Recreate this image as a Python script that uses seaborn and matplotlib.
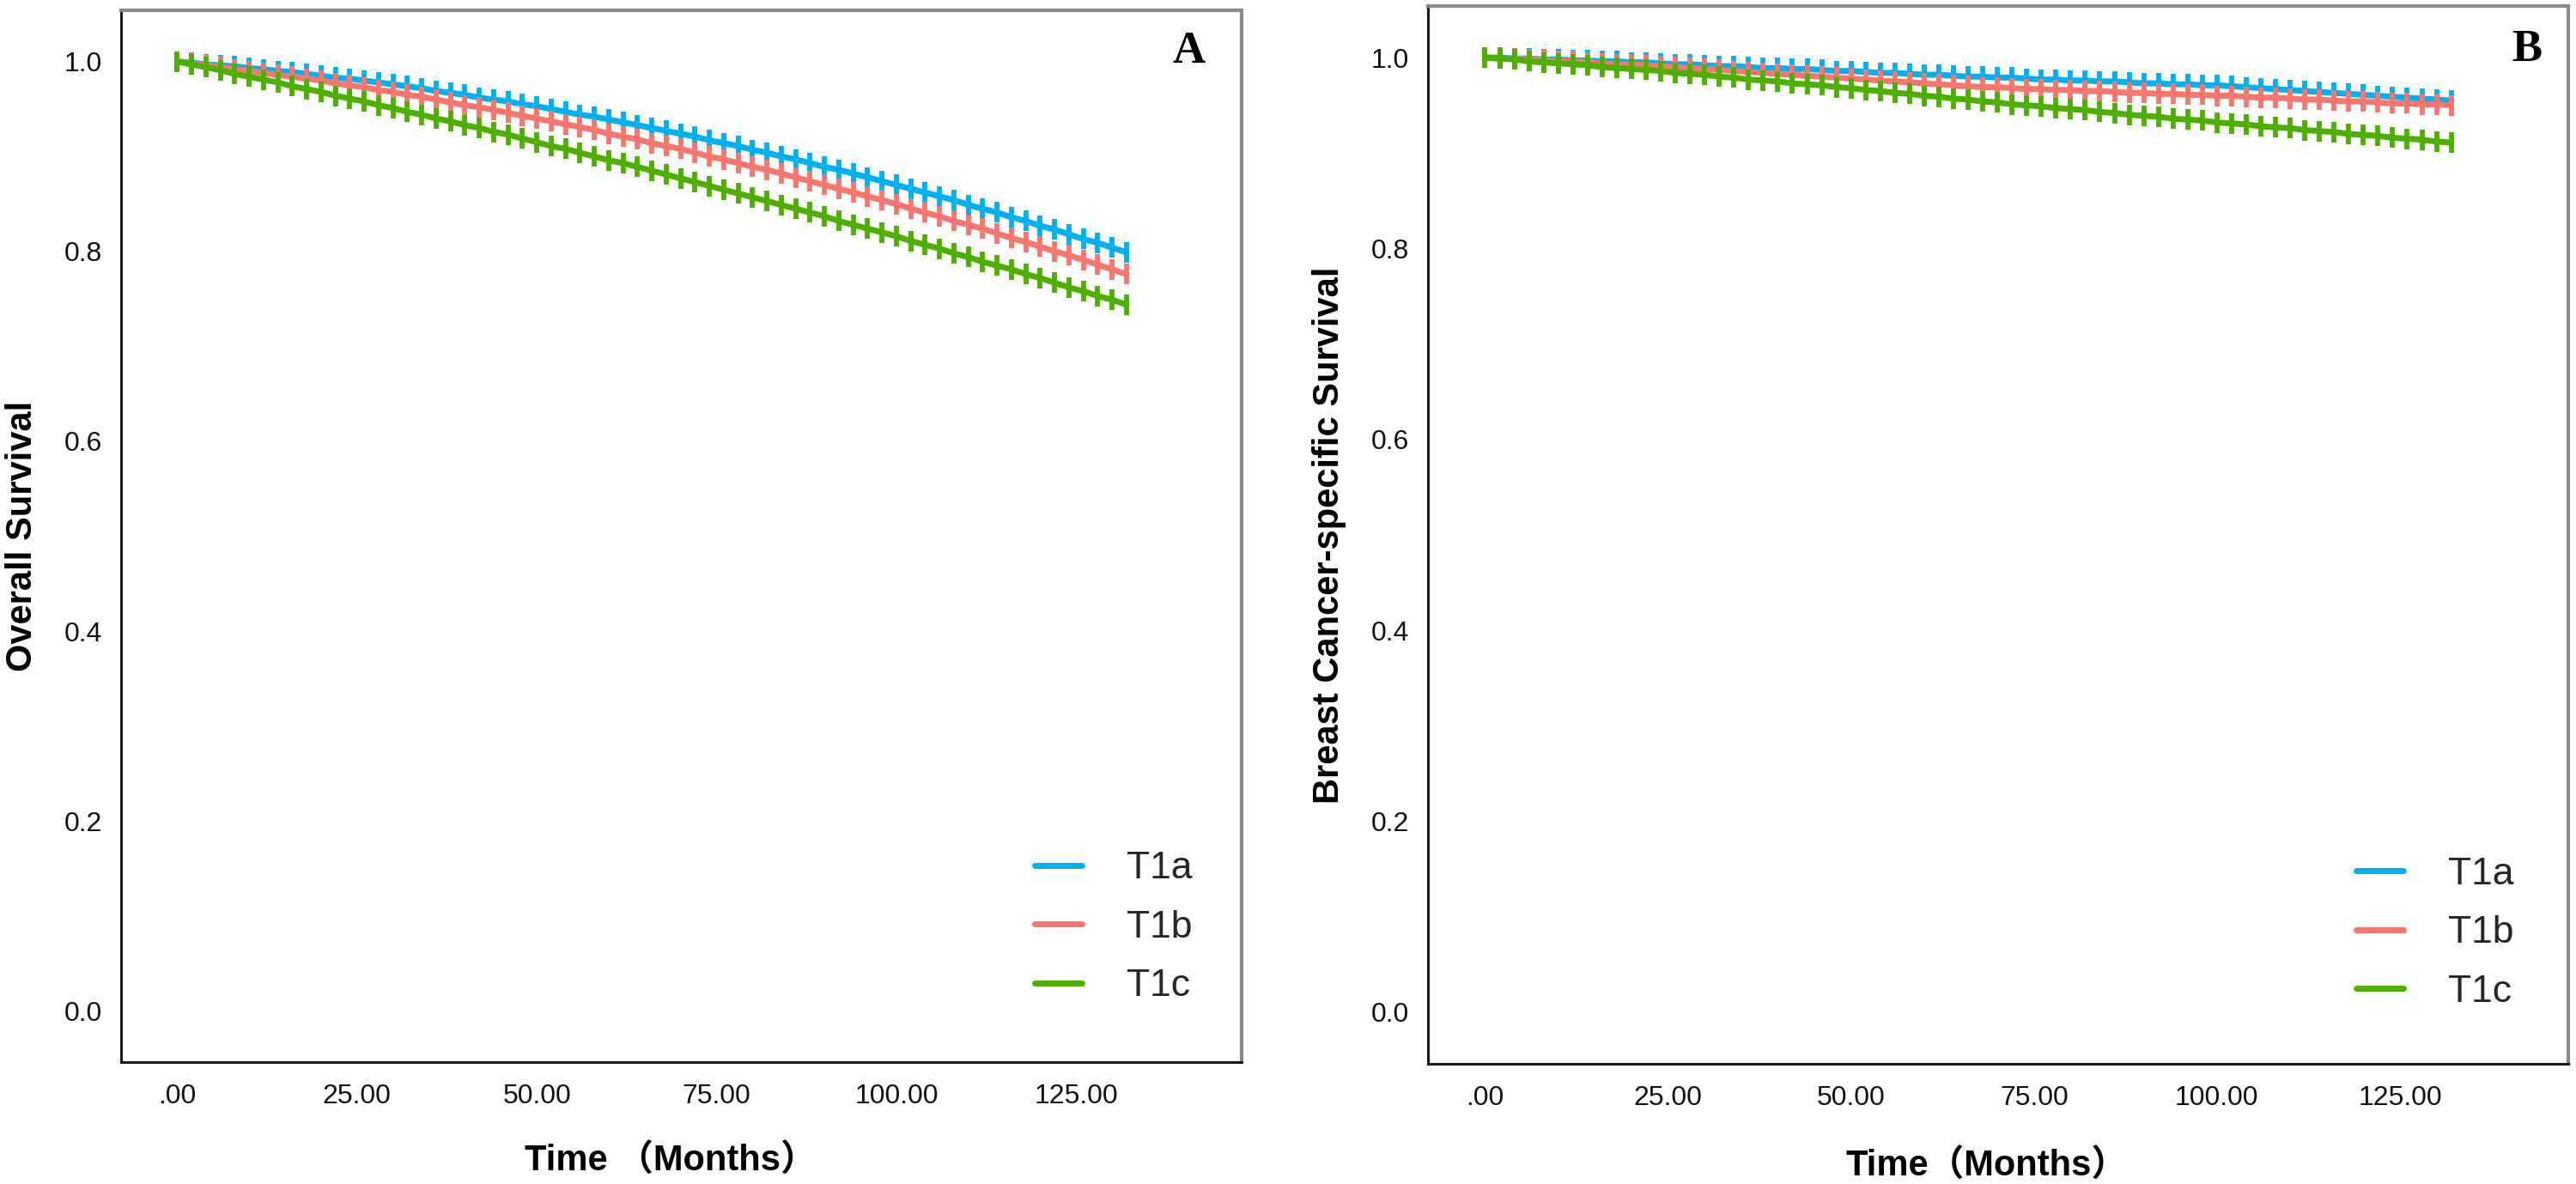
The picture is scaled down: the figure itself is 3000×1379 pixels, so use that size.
import matplotlib
matplotlib.use("Agg")
import matplotlib.pyplot as plt
from matplotlib.lines import Line2D
import seaborn as sns
import pandas as pd

# ---------------- data ----------------
months = list(range(0, 133, 2))
groups = ["T1a", "T1b", "T1c"]
colors = ["#00B0F0", "#F8766D", "#4DB000"]

os_t1a = [1.000, 0.999, 0.997, 0.996, 0.995, 0.993, 0.992, 0.990, 0.989, 0.987,
          0.985, 0.983, 0.982, 0.980, 0.978, 0.976, 0.974, 0.972, 0.969, 0.967,
          0.965, 0.962, 0.960, 0.958, 0.955, 0.953, 0.950, 0.947, 0.944, 0.942,
          0.939, 0.936, 0.933, 0.930, 0.927, 0.924, 0.921, 0.917, 0.914, 0.911,
          0.907, 0.904, 0.900, 0.897, 0.893, 0.889, 0.886, 0.882, 0.878, 0.874,
          0.870, 0.866, 0.862, 0.858, 0.854, 0.849, 0.845, 0.841, 0.836, 0.832,
          0.827, 0.823, 0.818, 0.813, 0.809, 0.804, 0.799]
os_t1b = [1.000, 0.998, 0.996, 0.994, 0.992, 0.990, 0.988, 0.986, 0.984, 0.982,
          0.980, 0.977, 0.975, 0.973, 0.970, 0.968, 0.965, 0.963, 0.960, 0.957,
          0.954, 0.952, 0.949, 0.946, 0.943, 0.940, 0.937, 0.934, 0.931, 0.928,
          0.924, 0.921, 0.918, 0.914, 0.911, 0.908, 0.904, 0.900, 0.897, 0.893,
          0.889, 0.886, 0.882, 0.878, 0.874, 0.870, 0.866, 0.862, 0.858, 0.854,
          0.850, 0.845, 0.841, 0.837, 0.832, 0.828, 0.824, 0.819, 0.814, 0.810,
          0.805, 0.800, 0.796, 0.791, 0.786, 0.781, 0.776]
os_t1c = [1.000, 0.997, 0.994, 0.991, 0.987, 0.984, 0.981, 0.978, 0.974, 0.971,
          0.968, 0.964, 0.961, 0.958, 0.954, 0.951, 0.947, 0.944, 0.940, 0.937,
          0.933, 0.930, 0.926, 0.923, 0.919, 0.915, 0.911, 0.908, 0.904, 0.900,
          0.896, 0.893, 0.889, 0.885, 0.881, 0.877, 0.873, 0.869, 0.865, 0.861,
          0.857, 0.853, 0.849, 0.845, 0.841, 0.837, 0.832, 0.828, 0.824, 0.820,
          0.816, 0.811, 0.807, 0.803, 0.798, 0.794, 0.789, 0.785, 0.781, 0.776,
          0.772, 0.767, 0.762, 0.758, 0.753, 0.749, 0.744]

bcss_t1a = [1.000, 1.000, 0.999, 0.999, 0.998, 0.998, 0.997, 0.997, 0.996, 0.996,
            0.995, 0.995, 0.994, 0.993, 0.993, 0.992, 0.991, 0.991, 0.990, 0.989,
            0.989, 0.988, 0.988, 0.987, 0.986, 0.986, 0.985, 0.984, 0.984, 0.983,
            0.982, 0.982, 0.981, 0.980, 0.980, 0.979, 0.979, 0.978, 0.977, 0.977,
            0.976, 0.976, 0.975, 0.975, 0.974, 0.973, 0.973, 0.972, 0.972, 0.971,
            0.971, 0.970, 0.969, 0.968, 0.967, 0.966, 0.965, 0.964, 0.963, 0.962,
            0.961, 0.960, 0.959, 0.958, 0.957, 0.956, 0.955]
bcss_t1b = [1.000, 0.999, 0.999, 0.998, 0.997, 0.996, 0.996, 0.995, 0.994, 0.993,
            0.993, 0.992, 0.991, 0.990, 0.989, 0.988, 0.987, 0.986, 0.985, 0.984,
            0.983, 0.982, 0.981, 0.980, 0.979, 0.978, 0.977, 0.976, 0.975, 0.974,
            0.973, 0.972, 0.971, 0.970, 0.969, 0.969, 0.968, 0.967, 0.967, 0.966,
            0.966, 0.965, 0.965, 0.964, 0.963, 0.963, 0.962, 0.962, 0.961, 0.961,
            0.960, 0.960, 0.959, 0.958, 0.958, 0.957, 0.956, 0.956, 0.955, 0.954,
            0.954, 0.953, 0.952, 0.952, 0.951, 0.951, 0.950]
bcss_t1c = [1.000, 0.999, 0.998, 0.996, 0.995, 0.994, 0.993, 0.992, 0.990, 0.989,
            0.988, 0.987, 0.986, 0.984, 0.983, 0.982, 0.980, 0.979, 0.977, 0.976,
            0.975, 0.973, 0.972, 0.971, 0.969, 0.968, 0.966, 0.965, 0.963, 0.962,
            0.960, 0.959, 0.957, 0.956, 0.954, 0.953, 0.951, 0.950, 0.949, 0.947,
            0.946, 0.945, 0.943, 0.942, 0.940, 0.939, 0.938, 0.936, 0.935, 0.934,
            0.932, 0.931, 0.930, 0.928, 0.927, 0.926, 0.924, 0.923, 0.922, 0.920,
            0.919, 0.918, 0.916, 0.915, 0.914, 0.912, 0.911]

x_ticks = [0, 25, 50, 75, 100, 125]
x_ticklabels = [".00", "25.00", "50.00", "75.00", "100.00", "125.00"]
y_ticks = [0.0, 0.2, 0.4, 0.6, 0.8, 1.0]
y_ticklabels = ["0.0", "0.2", "0.4", "0.6", "0.8", "1.0"]

panels = [
    {"letter": "A", "ylabel": "Overall Survival", "xlabel": "Time （Months）",
     "series": [os_t1a, os_t1b, os_t1c]},
    {"letter": "B", "ylabel": "Breast Cancer-specific Survival", "xlabel": "Time（Months）",
     "series": [bcss_t1a, bcss_t1b, bcss_t1c]},
]

# ---------------- style ----------------
sns.set_theme(style="white")
plt.rcParams["font.family"] = ["Liberation Sans", "Noto Sans CJK SC", "DejaVu Sans"]

fig = plt.figure(figsize=(30, 13.79), dpi=100)
ax_rects = [
    [141 / 3000, (1379 - 1237) / 1379, 1305 / 3000, 1225 / 1379],
    [1663 / 3000, (1379 - 1239) / 1379, 1328 / 3000, 1232 / 1379],
]
letter_pos = [(0.953, 0.961), (0.964, 0.959)]
legend_pos = [(0.8153, 0.128), (0.814, 0.1234)]
ylabel_x = [-0.073, -0.0715]
xlabel_y = [-0.078, -0.081]

for i, p in enumerate(panels):
    ax = fig.add_axes(ax_rects[i])
    df = pd.DataFrame({
        "month": months * 3,
        "surv": p["series"][0] + p["series"][1] + p["series"][2],
        "group": sum([[g] * len(months) for g in groups], []),
    })
    for g, c in zip(groups, colors):
        sub = df[df["group"] == g]
        sns.lineplot(data=sub, x="month", y="surv", ax=ax, color=c,
                     estimator=None, sort=True, legend=False,
                     lw=5, marker="|", markersize=17,
                     markeredgewidth=4.2, markeredgecolor=c,
                     markerfacecolor=c, clip_on=False)

    ax.set_xlim(-7.8, 148)
    ax.set_ylim(-0.054, 1.054)
    ax.set_xticks(x_ticks)
    ax.set_xticklabels(x_ticklabels)
    ax.set_yticks(y_ticks)
    ax.set_yticklabels(y_ticklabels)
    ax.tick_params(axis="both", direction="out", length=14, width=2.8,
                   color="#3a3a3a", labelsize=23, labelcolor="#111111")
    ax.tick_params(axis="y", pad=2)
    ax.tick_params(axis="x", pad=4)
    ax.grid(False)
    ax.set_facecolor("white")

    for s in ["left", "bottom"]:
        ax.spines[s].set_color("#1a1a1a")
        ax.spines[s].set_linewidth(2.2)
    for s in ["top", "right"]:
        ax.spines[s].set_color("#8a8a8a")
        ax.spines[s].set_linewidth(3.0)

    ax.set_ylabel(p["ylabel"], fontsize=30, fontweight="bold", color="black")
    ax.yaxis.set_label_coords(ylabel_x[i], 0.5)
    ax.set_xlabel(p["xlabel"], fontsize=30, fontweight="bold", color="black")
    ax.xaxis.set_label_coords(0.49, xlabel_y[i])

    ax.text(letter_pos[i][0], letter_pos[i][1], p["letter"], transform=ax.transAxes,
            ha="center", va="center", fontsize=38, fontweight="bold",
            family=["Liberation Serif", "DejaVu Serif"], color="black")

    handles = [Line2D([0], [0], color=c, lw=5) for c in colors]
    ax.legend(handles, groups, loc="center left", bbox_to_anchor=legend_pos[i],
              frameon=False, fontsize=32, borderpad=0, borderaxespad=0,
              handlelength=1.24, handletextpad=1.17, labelspacing=0.62)

fig.savefig("out.png", dpi=100, facecolor="white")
